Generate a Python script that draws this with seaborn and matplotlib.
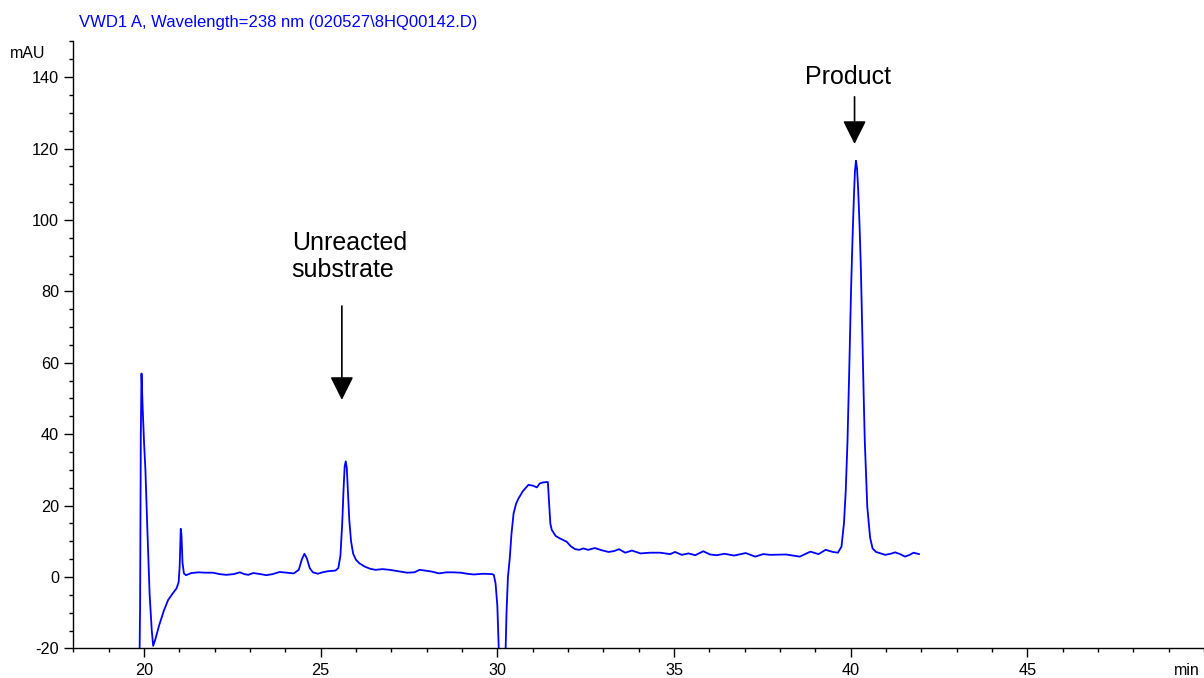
import matplotlib
matplotlib.use("Agg")
import matplotlib.pyplot as plt
import pandas as pd
import seaborn as sns
from matplotlib.ticker import MultipleLocator

# retention time (min) and detector signal (mAU)
time_min = [
    18.00, 18.03, 19.87, 19.89, 19.91, 19.93, 19.96, 20.00, 20.04, 20.10,
    20.16, 20.22, 20.26, 20.32, 20.43, 20.56, 20.68, 20.80, 20.92, 20.98,
    21.01, 21.04, 21.06, 21.09, 21.13, 21.19, 21.34, 21.54, 21.74, 21.95,
    22.14, 22.33, 22.54, 22.71, 22.84, 22.95, 23.09, 23.24, 23.46, 23.64,
    23.84, 24.04, 24.24, 24.38, 24.47, 24.54, 24.61, 24.69, 24.78, 24.92,
    25.05, 25.20, 25.42, 25.50, 25.56, 25.61, 25.65, 25.68, 25.71, 25.74,
    25.77, 25.81, 25.86, 25.92, 26.00, 26.10, 26.25, 26.40, 26.55, 26.75,
    26.95, 27.20, 27.45, 27.65, 27.80, 27.95, 28.15, 28.35, 28.55, 28.75,
    28.96, 29.15, 29.33, 29.60, 29.85, 29.90, 29.95, 30.00, 30.06, 30.22,
    30.26, 30.30, 30.35, 30.40, 30.46, 30.53, 30.60, 30.72, 30.88, 31.00,
    31.12, 31.20, 31.30, 31.43, 31.47, 31.50, 31.54, 31.65, 31.77, 31.96,
    32.08, 32.20, 32.32, 32.43, 32.57, 32.76, 32.95, 33.15, 33.32, 33.44,
    33.62, 33.81, 34.05, 34.32, 34.61, 34.89, 35.03, 35.22, 35.41, 35.60,
    35.83, 36.02, 36.21, 36.43, 36.70, 37.03, 37.30, 37.52, 37.73, 38.17,
    38.56, 38.86, 39.09, 39.29, 39.50, 39.64, 39.74, 39.81, 39.86, 39.91,
    39.96, 40.01, 40.05, 40.09, 40.12, 40.15, 40.18, 40.21, 40.25, 40.29,
    40.33, 40.37, 40.40, 40.47, 40.55, 40.62, 40.72, 40.98, 41.13, 41.26,
    41.40, 41.54, 41.67, 41.78, 41.94,
]
signal_mau = [
    -21.5, -26.0, -26.0, -8.0, 40.0, 57.0, 48.0, 38.0, 30.0, 12.0,
    -5.0, -15.0, -19.3, -17.5, -13.5, -9.5, -6.5, -4.8, -3.2, -1.5,
    3.0, 13.5, 12.0, 4.0, 1.0, 0.5, 1.1, 1.3, 1.2, 1.2,
    0.8, 0.6, 0.8, 1.3, 0.8, 0.6, 1.1, 0.9, 0.5, 0.8,
    1.4, 1.2, 1.0, 2.0, 5.0, 6.5, 5.2, 2.5, 1.3, 0.9,
    1.3, 1.6, 1.8, 2.5, 6.0, 15.0, 25.0, 31.0, 32.4, 30.5,
    24.0, 16.0, 10.0, 6.5, 4.8, 3.8, 2.9, 2.3, 2.0, 2.2,
    2.0, 1.6, 1.2, 1.3, 2.0, 1.8, 1.5, 1.0, 1.3, 1.3,
    1.2, 0.9, 0.7, 0.9, 0.8, 0.6, -1.8, -8.0, -26.0, -26.0,
    -10.0, 0.0, 5.0, 12.0, 17.8, 20.5, 22.0, 24.0, 25.8, 25.6,
    25.1, 26.2, 26.5, 26.6, 20.0, 15.0, 13.2, 11.5, 10.8, 9.9,
    8.6, 7.8, 7.6, 8.0, 7.6, 8.1, 7.5, 7.0, 7.3, 7.8,
    6.8, 7.4, 6.6, 6.8, 6.8, 6.4, 7.0, 6.2, 6.6, 6.1,
    7.2, 6.3, 6.1, 6.5, 6.0, 6.7, 5.7, 6.4, 6.2, 6.3,
    5.7, 7.1, 6.4, 7.6, 7.0, 6.8, 8.5, 15.0, 24.0, 38.0,
    58.0, 80.0, 94.0, 106.0, 113.5, 116.6, 114.5, 109.0, 99.0, 86.0,
    68.0, 50.0, 38.0, 19.7, 11.0, 8.0, 7.0, 6.2, 6.5, 6.9,
    6.4, 5.7, 6.2, 6.8, 6.4,
]

title_text = "VWD1 A, Wavelength=238 nm (020527\\8HQ00142.D)"

df = pd.DataFrame({"time": time_min, "mAU": signal_mau})

sns.set_style("ticks")
plt.rcParams["font.family"] = ["Liberation Sans", "DejaVu Sans"]
plt.rcParams["axes.unicode_minus"] = False
plt.rcParams["text.color"] = "black"
plt.rcParams["xtick.color"] = "black"
plt.rcParams["ytick.color"] = "black"

fig = plt.figure(figsize=(12.04, 6.78), dpi=100)
ax = fig.add_axes([0.0609, 0.0437, 0.9391, 0.8951])

sns.lineplot(data=df, x="time", y="mAU", sort=False, estimator=None,
             color="#0000ff", linewidth=1.3, ax=ax)

ax.set_xlim(18, 50)
ax.set_ylim(-20, 150)
ax.xaxis.set_major_locator(MultipleLocator(5))
ax.xaxis.set_minor_locator(MultipleLocator(1))
ax.yaxis.set_major_locator(MultipleLocator(20))
ax.yaxis.set_minor_locator(MultipleLocator(5))
ax.set_xticks([20, 25, 30, 35, 40, 45])
ax.set_yticks(range(-20, 141, 20))
ax.tick_params(which="major", length=6.7, width=1, pad=3.5, labelsize=11.7,
               color="black", labelcolor="black")
ax.tick_params(which="minor", length=3.1, width=1, color="black")
ax.set_xlabel("")
ax.set_ylabel("")
sns.despine(ax=ax)
for side in ["left", "bottom"]:
    ax.spines[side].set_color("black")
    ax.spines[side].set_linewidth(1.0)

# arrows and labels
ax.annotate("", xy=(25.60, 49.6), xytext=(25.60, 75.9),
            arrowprops=dict(arrowstyle="-|>,head_length=0.4,head_width=0.2",
                            color="black", lw=1.2, mutation_scale=36,
                            shrinkA=0, shrinkB=0))
ax.annotate("", xy=(40.11, 121.3), xytext=(40.11, 134.5),
            arrowprops=dict(arrowstyle="-|>,head_length=0.4,head_width=0.2",
                            color="black", lw=1.2, mutation_scale=36,
                            shrinkA=0, shrinkB=0))
ax.text(24.18, 84.1, "Unreacted\nsubstrate", fontsize=18, ha="left",
        va="baseline", linespacing=1.15, color="black")
ax.text(39.93, 138.1, "Product", fontsize=18, ha="center", va="baseline",
        color="black")

fig.text(79 / 1204, 1 - 26.7 / 678, title_text, color="#0000ff",
         fontsize=12, ha="left", va="baseline")
fig.text(10 / 1204, 1 - 58.3 / 678, "mAU", fontsize=11.5, ha="left", va="baseline")
fig.text(1200 / 1204, 1 - 675 / 678, "min", fontsize=11.5, ha="right", va="baseline")

fig.savefig("out.png", dpi=100)
